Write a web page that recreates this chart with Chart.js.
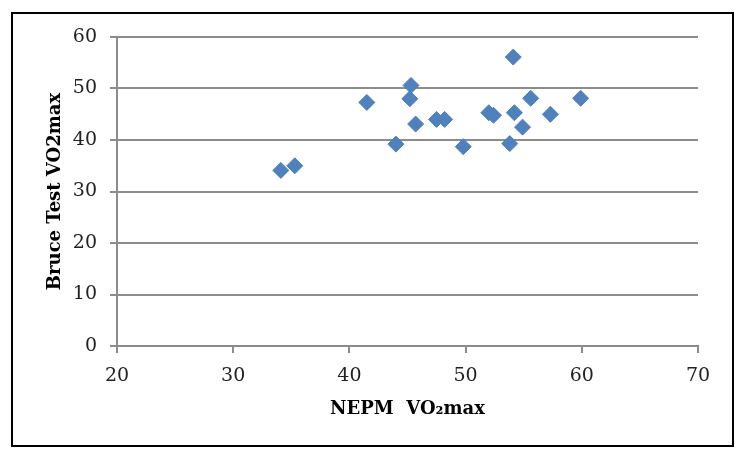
<!DOCTYPE html>
<html>
<head>
<meta charset="utf-8">
<script src="https://cdn.jsdelivr.net/npm/chart.js@4"></script>
<style>
  html, body { margin: 0; padding: 0; background: #fff; }
  #wrap { width: 747px; height: 459px; position: relative; }
</style>
</head>
<body>
<div id="wrap"><canvas id="vo2Chart" width="747" height="459"></canvas></div>
<script>
// данные
const nepm  = [34.1, 35.3, 41.5, 44.0, 45.3, 45.2, 45.7, 47.5, 48.2, 49.8, 52.0, 52.4, 54.1, 54.2, 53.8, 54.9, 55.6, 57.3, 59.9];
const bruce = [34.1, 35.0, 47.3, 39.2, 50.6, 48.0, 43.1, 44.0, 44.0, 38.7, 45.3, 44.8, 56.1, 45.3, 39.3, 42.5, 48.1, 45.0, 48.1];
const xTicks = [20, 30, 40, 50, 60, 70];
const yTicks = [0, 10, 20, 30, 40, 50, 60];

const points = nepm.map((x, i) => ({ x: x, y: bruce[i] }));

const gridGray = '#8c8c8c';
const tickFont = { family: 'DejaVu Serif', size: 19 };
const titleFont = { family: 'DejaVu Serif', size: 18, weight: 'bold' };

// рамка вокруг всей картинки
const frame = {
  id: 'frame',
  beforeDraw(chart) {
    const c = chart.ctx;
    c.save();
    c.fillStyle = '#fff';
    c.fillRect(0, 0, chart.width, chart.height);
    c.restore();
  },
  afterDraw(chart) {
    const c = chart.ctx;
    c.save();
    c.strokeStyle = '#000';
    c.lineWidth = 2;
    c.strokeRect(12, 13, 721, 433);
    c.restore();
  }
};

const ctx = document.getElementById('vo2Chart').getContext('2d');
const vo2Chart = new Chart(ctx, {
  type: 'scatter',
  data: {
    datasets: [{
      data: points,
      pointStyle: 'rectRot',
      pointRadius: 8,
      pointHoverRadius: 8,
      backgroundColor: '#4F81BD',
      borderColor: '#4F81BD',
      borderWidth: 1
    }]
  },
  options: {
    responsive: false,
    animation: false,
    layout: { padding: { left: 40, right: 49, top: 37, bottom: 35 } },
    plugins: {
      legend: { display: false },
      tooltip: { enabled: false }
    },
    scales: {
      x: {
        type: 'linear',
        min: 20,
        max: 70,
        afterFit(scale) { scale.height = 78; },
        afterBuildTicks(scale) { scale.ticks = xTicks.map(v => ({ value: v })); },
        ticks: { color: '#222', font: tickFont, padding: 12, maxRotation: 0 },
        grid: { drawOnChartArea: false, tickLength: 7, color: gridGray, lineWidth: 2 },
        border: { color: gridGray, width: 2 },
        title: { display: true, text: 'NEPM  VO₂max', color: '#000', font: titleFont, padding: { top: 0, bottom: 4 } }
      },
      y: {
        type: 'linear',
        min: 0,
        max: 60,
        afterFit(scale) { scale.width = 77; },
        afterBuildTicks(scale) { scale.ticks = yTicks.map(v => ({ value: v })); },
        ticks: { color: '#222', font: tickFont, padding: 13 },
        grid: { tickLength: 7, color: gridGray, lineWidth: 2 },
        border: { color: gridGray, width: 2 },
        title: { display: true, text: 'Bruce Test VO2max', color: '#000', font: titleFont, padding: { top: 5, bottom: 0 } }
      }
    }
  },
  plugins: [frame]
});
</script>
</body>
</html>
